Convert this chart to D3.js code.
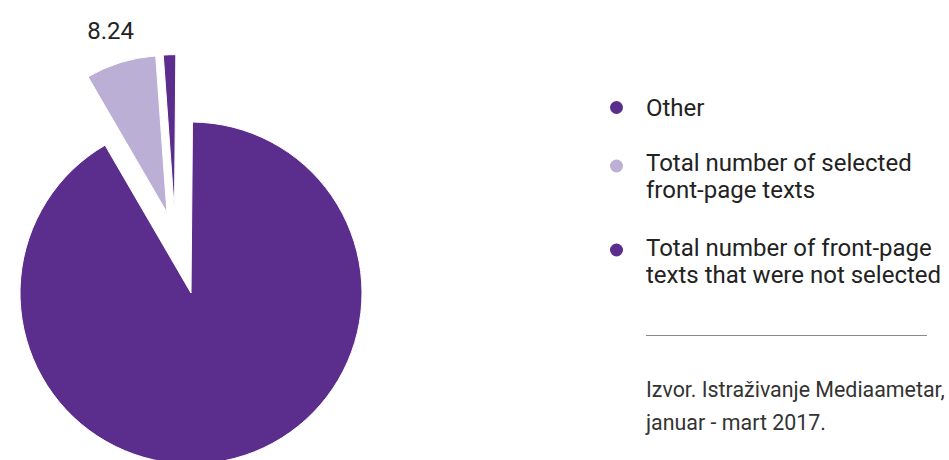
<!DOCTYPE html>
<html>
<head>
<meta charset="utf-8">
<script src="https://cdn.jsdelivr.net/npm/d3@7"></script>
<style>
  html, body { margin: 0; padding: 0; background: #fff; }
  svg { display: block; font-family: Roboto, "Noto Sans", sans-serif; }
</style>
</head>
<body>
<svg id="chart" width="949" height="460"></svg>
<script>
// Share of front-page texts, January - March 2017
const categories = [
  "Total number of front-page texts that were not selected",
  "Total number of selected front-page texts",
  "Other"
];
const values = [104, 8.24, 1.45];
const valueLabels = [null, "8.24", null];

// Legend lists the categories in reverse drawing order, with wrapped lines
const legendOrder = ["Other", "Total number of selected front-page texts", "Total number of front-page texts that were not selected"];
const legendLines = [
  ["Other"],
  ["Total number of selected", "front-page texts"],
  ["Total number of front-page", "texts that were not selected"]
];
const sourceLines = ["Izvor. Istraživanje Mediaametar,", "januar - mart 2017."];

const colors = d3.scaleOrdinal()
  .domain(categories)
  .range(["#5b2e8e", "#bcafd5", "#5b2e8e"]);

const svg = d3.select("#chart");
const cx = 191, cy = 293;
const outerR = 171;       // radius of the resting slice
const pulledR = 157;      // radius of the slices pulled out of the pie
const deg = Math.PI / 180;

// Slices pulled out from the centre: distance and a turn relative to the slice's mid-angle
const pulls = {
  "Total number of selected front-page texts": { dist: 84, turn: 0.5 },
  "Other": { dist: 83, turn: -9.7 }
};

const pie = d3.pie()
  .sort(null)
  .value(d => d.value)
  .startAngle(0.5 * deg)
  .endAngle(360.5 * deg);

const data = categories.map((c, i) => ({ name: c, value: values[i], label: valueLabels[i] }));
const arcs = pie(data);

const g = svg.append("g").attr("transform", `translate(${cx},${cy})`);

arcs.forEach(a => {
  const p = pulls[a.data.name];
  const r = p ? pulledR : outerR;
  const mid = (a.startAngle + a.endAngle) / 2;
  let dx = 0, dy = 0;
  if (p) {
    const ang = mid + p.turn * deg;
    dx = p.dist * Math.sin(ang);
    dy = -p.dist * Math.cos(ang);
  }
  const arc = d3.arc().innerRadius(0).outerRadius(r);
  g.append("path")
    .attr("d", arc(a))
    .attr("transform", `translate(${dx},${dy})`)
    .attr("fill", colors(a.data.name))
    .attr("stroke", "#fff")
    .attr("stroke-width", 1)
    .attr("stroke-linejoin", "round");

  if (a.data.label) {
    const lr = r + 34;
    const lx = dx + lr * Math.sin(mid);
    const ly = dy - lr * Math.cos(mid);
    g.append("text")
      .attr("x", lx)
      .attr("y", ly + 9)
      .attr("text-anchor", "middle")
      .attr("font-size", 24)
      .attr("fill", "#222")
      .text(a.data.label);
  }
});

// Legend
const legendX = 616.5;
const dotY = [107.5, 166, 250];
const baseY = [115.5, 171, 255.5];
const lineH = 27;
const legend = svg.append("g");
legendOrder.forEach((name, i) => {
  legend.append("circle")
    .attr("cx", legendX)
    .attr("cy", dotY[i])
    .attr("r", 6.5)
    .attr("fill", colors(name));
  const t = legend.append("text")
    .attr("x", 646)
    .attr("y", baseY[i])
    .attr("font-size", 24)
    .attr("fill", "#222");
  legendLines[i].forEach((line, j) => {
    t.append("tspan")
      .attr("x", 646)
      .attr("dy", j === 0 ? 0 : lineH)
      .text(line);
  });
});

// Separator and source note
svg.append("line")
  .attr("x1", 646).attr("x2", 927)
  .attr("y1", 335.5).attr("y2", 335.5)
  .attr("stroke", "#8a8a8a")
  .attr("stroke-width", 1);

const src = svg.append("text")
  .attr("x", 646)
  .attr("y", 397)
  .attr("font-size", 21.4)
  .attr("fill", "#333");
sourceLines.forEach((line, j) => {
  src.append("tspan")
    .attr("x", 646)
    .attr("dy", j === 0 ? 0 : 33)
    .text(line);
});
</script>
</body>
</html>
